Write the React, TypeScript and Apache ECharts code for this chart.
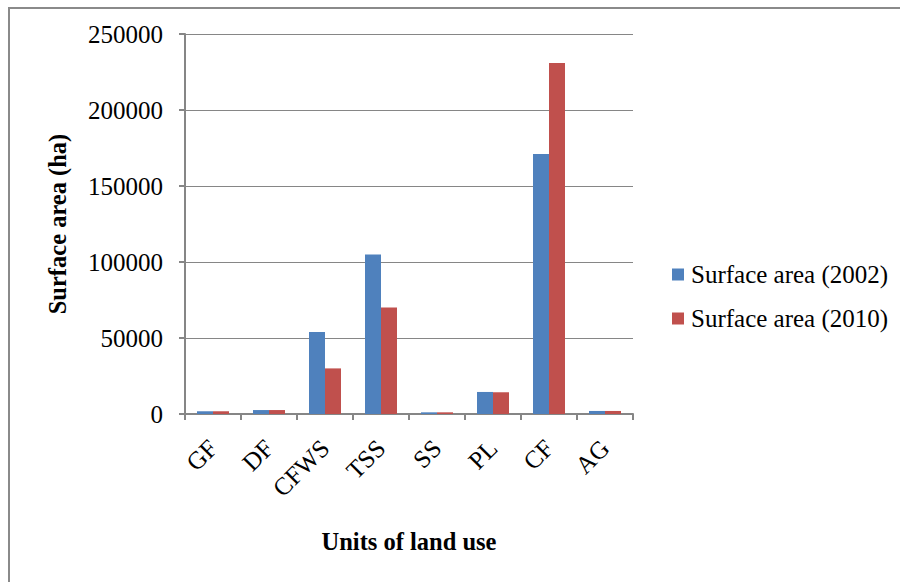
import React, { useEffect, useRef } from "react";
import * as echarts from "echarts";

const categories = ["GF", "DF", "CFWS", "TSS", "SS", "PL", "CF", "AG"];
const area2002 = [1800, 2600, 54000, 105000, 1100, 14500, 171000, 2000];
const area2010 = [1800, 2600, 30000, 70000, 1100, 14300, 231000, 2000];
const seriesNames = ["Surface area (2002)", "Surface area (2010)"];

const FONT = "'Liberation Serif', 'Times New Roman', serif";
const GRAY = "#868686";

export default function App() {
  const ref = useRef<HTMLDivElement>(null);

  useEffect(() => {
    if (!ref.current) return;
    const chart = echarts.init(ref.current, null, { renderer: "svg" });
    chart.setOption({
      animation: false,
      backgroundColor: "#ffffff",
      textStyle: { fontFamily: FONT },
      graphic: [
        {
          type: "rect",
          shape: { x: 9, y: 8, width: 1000, height: 1000 },
          style: { fill: "none", stroke: "#8a8a8a", lineWidth: 2 },
          silent: true,
        },
      ],
      grid: { left: 185, top: 34, right: 267, bottom: 168 },
      legend: {
        orient: "vertical",
        left: 667,
        top: 257,
        itemWidth: 12,
        itemHeight: 12,
        itemGap: 19,
        icon: "rect",
        data: seriesNames,
        textStyle: { fontFamily: FONT, fontSize: 25, color: "#000", padding: [0, 0, 0, 2] },
      },
      xAxis: {
        type: "category",
        data: categories,
        name: "Units of land use",
        nameLocation: "middle",
        nameGap: 115,
        nameTextStyle: { fontFamily: FONT, fontSize: 24.5, fontWeight: "bold", color: "#000" },
        axisLine: { lineStyle: { color: GRAY, width: 2 } },
        axisTick: { show: true, length: 6, lineStyle: { color: GRAY, width: 2 } },
        axisLabel: { rotate: 45, margin: 30, fontFamily: FONT, fontSize: 25, color: "#000" },
      },
      yAxis: {
        type: "value",
        min: 0,
        max: 250000,
        interval: 50000,
        name: "Surface area (ha)",
        nameLocation: "middle",
        nameGap: 115,
        nameRotate: 90,
        nameTextStyle: { fontFamily: FONT, fontSize: 24.5, fontWeight: "bold", color: "#000" },
        axisLine: { show: true, lineStyle: { color: GRAY, width: 2 } },
        axisTick: { show: true, length: 6, lineStyle: { color: GRAY, width: 2 } },
        axisLabel: {
          margin: 22,
          fontFamily: FONT,
          fontSize: 25,
          color: "#000",
          formatter: (v: number) => String(v),
        },
        splitLine: { show: true, lineStyle: { color: GRAY, width: 1 } },
      },
      series: [
        {
          name: seriesNames[0],
          type: "bar",
          data: area2002,
          barWidth: 16,
          barGap: "0%",
          itemStyle: { color: "#4F81BD" },
        },
        {
          name: seriesNames[1],
          type: "bar",
          data: area2010,
          barWidth: 16,
          barGap: "0%",
          itemStyle: { color: "#C0504D" },
        },
      ],
    });
    return () => chart.dispose();
  }, []);

  return (
    <div
      ref={ref}
      style={{ position: "absolute", left: 0, top: 0, width: 900, height: 582 }}
    />
  );
}
